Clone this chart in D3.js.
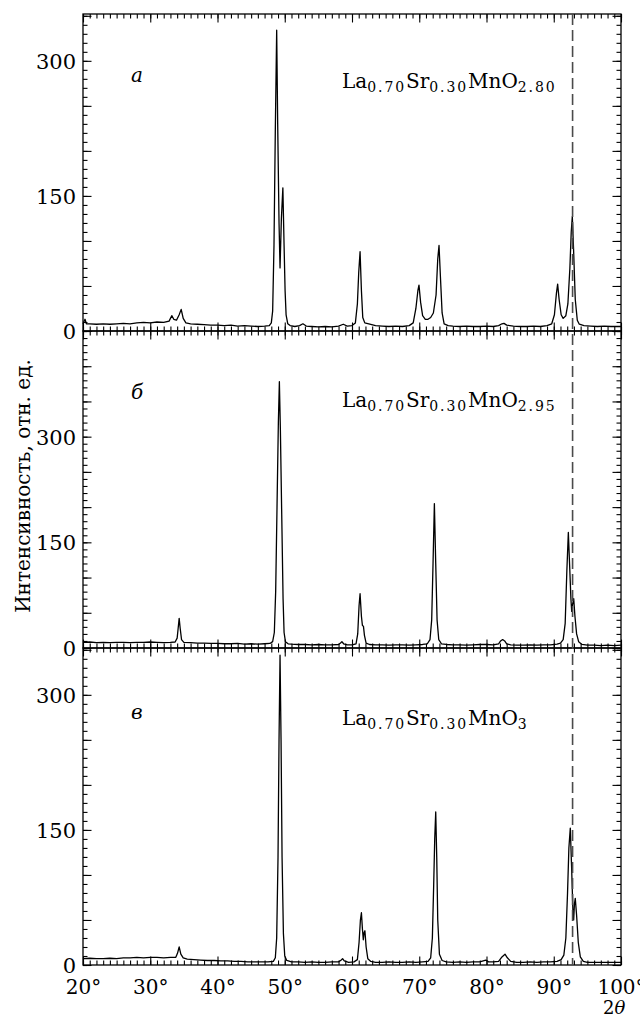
<!DOCTYPE html>
<html><head><meta charset="utf-8">
<script src="https://cdn.jsdelivr.net/npm/d3@7"></script>
<style>
html,body{margin:0;padding:0;background:#fff;}
svg{display:block;}
svg text{font-family:"DejaVu Serif",serif !important;fill:#000;}
</style></head>
<body><svg id="c" width="640" height="1017"></svg>
<script>
// ---------- DATA ----------
const xTickLabels = ["20°","30°","40°","50°","60°","70°","80°","90°","100°"];
const xTickValues = [20,30,40,50,60,70,80,90,100];
const yTickLabelValues = [0,150,300];
const panelLetters = ["a","б","в"];
const formulaSubs = [["0.70","0.30","2.80"],["0.70","0.30","2.95"],["0.70","0.30","3"]];
const yMax = [352,450,352];
const dashedAt = 92.8;

const seriesA = [[20.0,8],[20.3,13],[20.5,8],[21,8],[22,7.5],[23,8],[24,7.5],[25,8],[26,8.5],[27,8],[28,9],[29,9.5],[30,9],[31,10],[32,9.5],[32.8,11],[33.2,17],[33.5,13],[33.9,12],[34.3,18],[34.6,24],[34.9,14],[35.3,9],[36,8],[37,7.5],[38,7],[39,6.5],[40,6.5],[41,6],[42,6.5],[43,5.5],[44,6],[45,5.5],[46,5],[47,5.5],[47.7,6],[48.0,9],[48.2,22],[48.4,95],[48.6,225],[48.8,334],[48.95,230],[49.15,120],[49.3,70],[49.5,125],[49.72,159],[49.9,95],[50.05,45],[50.2,18],[50.45,8],[50.8,6],[51.5,5],[52.2,6],[52.7,8],[53.2,5.5],[54,5],[55,4.5],[56,5],[57,4.5],[58,5.5],[58.7,7.5],[59.3,5.5],[60,6],[60.5,9],[60.8,30],[61.0,65],[61.2,88],[61.4,45],[61.6,15],[61.9,9],[62.5,8],[63.5,6],[64.5,5.5],[65.5,5],[66.5,5.5],[67.5,5],[68.5,6],[69.1,9],[69.5,25],[69.8,45],[69.96,51],[70.2,32],[70.5,17],[70.9,13],[71.3,13],[71.7,15],[72.1,20],[72.5,40],[72.75,80],[72.94,95],[73.15,60],[73.4,20],[73.7,8],[74.3,6],[75,5.5],[76,5],[77,5.5],[78,5],[79,5],[80,5.5],[81,5],[81.8,6],[82.3,8],[82.6,8.5],[83.0,6.5],[84,5.5],[85,5],[86,5],[87,5.5],[88,5],[89,6],[89.7,8],[90.1,18],[90.4,42],[90.58,52],[90.8,35],[91.1,18],[91.4,14],[91.8,17],[92.1,30],[92.4,70],[92.6,110],[92.76,127],[92.95,90],[93.2,35],[93.5,12],[93.8,7.5],[94.5,6],[95.5,5.5],[96.5,5],[97.5,5.5],[98.5,5],[100,5]];

const seriesB = [[20,8],[21,8.5],[22,7.5],[23,8],[24,7.5],[25,8],[26,8],[27,7.5],[28,8],[29,8],[30,8.5],[31,8],[32,7.5],[33,8],[33.7,8.5],[34.0,14],[34.15,28],[34.3,42],[34.45,28],[34.65,12],[35,8],[36,7.5],[37,7],[38,7],[39,6.5],[40,6.5],[41,6],[42,6],[43,6.5],[44,5.5],[45,6],[46,5.5],[47,6],[47.8,6.5],[48.2,9],[48.45,22],[48.65,80],[48.85,200],[49.05,320],[49.2,378],[49.35,310],[49.55,190],[49.75,70],[49.9,22],[50.1,9],[50.5,6],[51,5.5],[52,5],[53,5],[54,4.5],[55,5],[56,4.5],[57,4.5],[58,5],[58.3,7],[58.5,9],[58.75,6],[59.3,4.5],[60,4.5],[60.6,6],[60.85,20],[61.05,60],[61.2,77],[61.4,45],[61.55,32],[61.7,31],[61.85,18],[62.1,7],[62.6,5],[63.5,4.5],[64.5,4.5],[65.5,4],[66.5,4.5],[67.5,4.5],[68.5,4],[69.5,4.5],[70.5,5],[71.2,6],[71.6,12],[71.85,40],[72.05,120],[72.25,205],[72.45,120],[72.65,40],[72.9,12],[73.3,6],[74,5],[75,4.5],[76,4.5],[77,4],[78,4.5],[79,5],[80,5],[81,4.5],[81.8,6],[82.1,10],[82.4,12],[82.7,10],[83.0,6],[83.6,4.5],[84.5,4],[85.5,4],[86.5,4.5],[87.5,4],[88.5,4.5],[89.5,4.5],[90.5,5.5],[91,7],[91.4,12],[91.7,35],[91.95,110],[92.17,164],[92.35,120],[92.55,70],[92.67,52],[92.8,62],[92.97,70],[93.15,45],[93.4,20],[93.7,9],[94.2,5],[95,4],[96,4],[97,3.5],[98,4],[99,3.5],[100,4]];

const seriesC = [[20,7],[21,7.5],[22,7],[23,7],[24,7.5],[25,7],[26,8],[27,8],[28,8.5],[29,8],[30,8.5],[31,8.5],[32,8],[33,8.5],[33.8,8.5],[34.05,13],[34.3,20],[34.55,12],[34.9,8],[35.5,6.5],[36.5,6],[37.5,5.5],[38.5,5],[39.5,5],[40.5,4.5],[41.5,4.5],[42.5,4],[43.5,4],[44.5,3.5],[45.5,3.5],[46.5,3.5],[47.5,3.5],[48.3,4],[48.6,8],[48.8,30],[49.0,120],[49.15,250],[49.3,344],[49.45,250],[49.6,120],[49.8,35],[50.0,10],[50.3,5],[51,3.5],[52,3.5],[53,3],[54,3.5],[55,3],[56,3],[57,3.5],[58,3.5],[58.4,5.5],[58.6,7],[58.85,4.5],[59.5,3],[60.3,3.5],[60.8,6],[61.05,25],[61.25,50],[61.4,58],[61.55,40],[61.68,28],[61.8,36],[61.92,38],[62.1,20],[62.35,7],[62.8,4],[63.5,3],[64.5,3],[65.5,3.5],[66.5,3],[67.5,3],[68.5,3.5],[69.5,3],[70.5,3.5],[71.3,4],[71.7,8],[71.95,30],[72.15,90],[72.3,140],[72.45,170],[72.6,120],[72.75,50],[73.0,12],[73.4,5],[74,3.5],[75,3],[76,3.5],[77,3],[78,3.5],[79,3.5],[79.9,5.5],[80.3,3.5],[81,3.5],[81.8,4],[82.3,9],[82.75,12],[83.1,8],[83.6,4],[84.5,3],[85.5,3],[86.5,3.5],[87.5,3],[88.5,3.5],[89.5,3.5],[90.5,4],[91.1,6],[91.5,11],[91.8,30],[92.05,80],[92.25,130],[92.46,152],[92.65,110],[92.85,60],[92.96,50],[93.08,68],[93.2,74],[93.4,55],[93.65,25],[93.95,9],[94.4,4],[95,3],[96,3],[97,3],[98,3],[99,3],[100,3]];

const allSeries = [seriesA, seriesB, seriesC];

// ---------- LAYOUT ----------
const L = 83, R = 621;
const panelTop = [14, 331, 648];
const panelH = 317;
const svg = d3.select("#c");
const x = d3.scaleLinear().domain([20,100]).range([L,R]);
const xMinor = d3.range(20,101,1);
const xMajor = d3.range(20,101,10);

allSeries.forEach((data, i) => {
  const y0 = panelTop[i], y1 = y0 + panelH;
  const y = d3.scaleLinear().domain([0, yMax[i]]).range([y1, y0]);
  const yMinor = d3.range(0, yMax[i] + 0.1, 10);
  const yMajor = d3.range(0, yMax[i] + 0.1, 50);
  const g = svg.append("g");

  const styleAxis = sel => { sel.select(".domain").remove(); sel.selectAll(".tick line").attr("stroke","#000").attr("stroke-width",1.1); };

  g.append("g").attr("transform",`translate(${L},0)`)
    .call(d3.axisLeft(y).tickValues(yMinor).tickSize(-4.5).tickFormat("")).call(styleAxis);
  g.append("g").attr("transform",`translate(${L},0)`)
    .call(d3.axisLeft(y).tickValues(yMajor).tickSize(-8.5).tickPadding(7)
      .tickFormat(d => yTickLabelValues.includes(d) ? String(d) : ""))
    .call(styleAxis)
    .call(s => s.selectAll("text").attr("font-size",21).attr("fill","#000").attr("dy","0.36em"));
  g.append("g").attr("transform",`translate(${R},0)`)
    .call(d3.axisRight(y).tickValues(yMinor).tickSize(-4.5).tickFormat("")).call(styleAxis);
  g.append("g").attr("transform",`translate(${R},0)`)
    .call(d3.axisRight(y).tickValues(yMajor).tickSize(-8.5).tickFormat("")).call(styleAxis);
  g.append("g").attr("transform",`translate(0,${y0})`)
    .call(d3.axisTop(x).tickValues(xMinor).tickSize(-4.5).tickFormat("")).call(styleAxis);
  g.append("g").attr("transform",`translate(0,${y0})`)
    .call(d3.axisTop(x).tickValues(xMajor).tickSize(-8.5).tickFormat("")).call(styleAxis);
  g.append("g").attr("transform",`translate(0,${y1})`)
    .call(d3.axisBottom(x).tickValues(xMinor).tickSize(-4.5).tickFormat("")).call(styleAxis);
  g.append("g").attr("transform",`translate(0,${y1})`)
    .call(d3.axisBottom(x).tickValues(xMajor).tickSize(-8.5).tickFormat("")).call(styleAxis);

  g.append("rect").attr("x",L).attr("y",y0).attr("width",R-L).attr("height",panelH)
    .attr("fill","none").attr("stroke","#000").attr("stroke-width",1.3);

  const line = d3.line().x(d => x(d[0])).y(d => y(d[1]));
  g.append("path").datum(data).attr("d",line).attr("fill","none")
    .attr("stroke","#000").attr("stroke-width",1.3).attr("stroke-linejoin","round");

  const letterY = [82, 399, 719][i];
  g.append("text").attr("x",131).attr("y",letterY).attr("font-size",20)
    .attr("font-style","italic").text(panelLetters[i]);

  const fy = [88, 407, 725][i];
  const t = g.append("text").attr("x",342).attr("y",fy).attr("font-size",20);
  const subs = formulaSubs[i];
  const parts = [["La",false],[subs[0],true],["Sr",false],[subs[1],true],["MnO",false],[subs[2],true]];
  parts.forEach(([s,isSub],k) => {
    const ts = t.append("tspan").text(s);
    if (isSub) ts.attr("font-size",14).attr("dy",4).attr("letter-spacing",1.9);
    else ts.attr("dy", k===0 ? 0 : -4);
  });
});

const xl = svg.append("g").attr("transform",`translate(0,${panelTop[2]+panelH})`)
  .call(d3.axisBottom(x).tickValues(xTickValues).tickSize(0).tickPadding(14)
    .tickFormat((d,k) => xTickLabels[k]));
xl.select(".domain").remove();
xl.selectAll("text").attr("font-size",20).attr("fill","#000").attr("dy","0.74em");

svg.append("text").attr("x",603).attr("y",1014).attr("font-size",18)
  .html('2<tspan font-style="italic">θ</tspan>');

svg.append("line").attr("x1",x(dashedAt)).attr("x2",x(dashedAt))
  .attr("y1",panelTop[0]).attr("y2",panelTop[2]+panelH)
  .attr("stroke","#4a4a4a").attr("stroke-width",1.6).attr("stroke-dasharray","11,5");

svg.append("text").attr("transform","translate(30,486) rotate(-90)")
  .attr("text-anchor","middle").attr("font-size",20)
  .text("Интенсивность, отн. ед.");
</script></body></html>
